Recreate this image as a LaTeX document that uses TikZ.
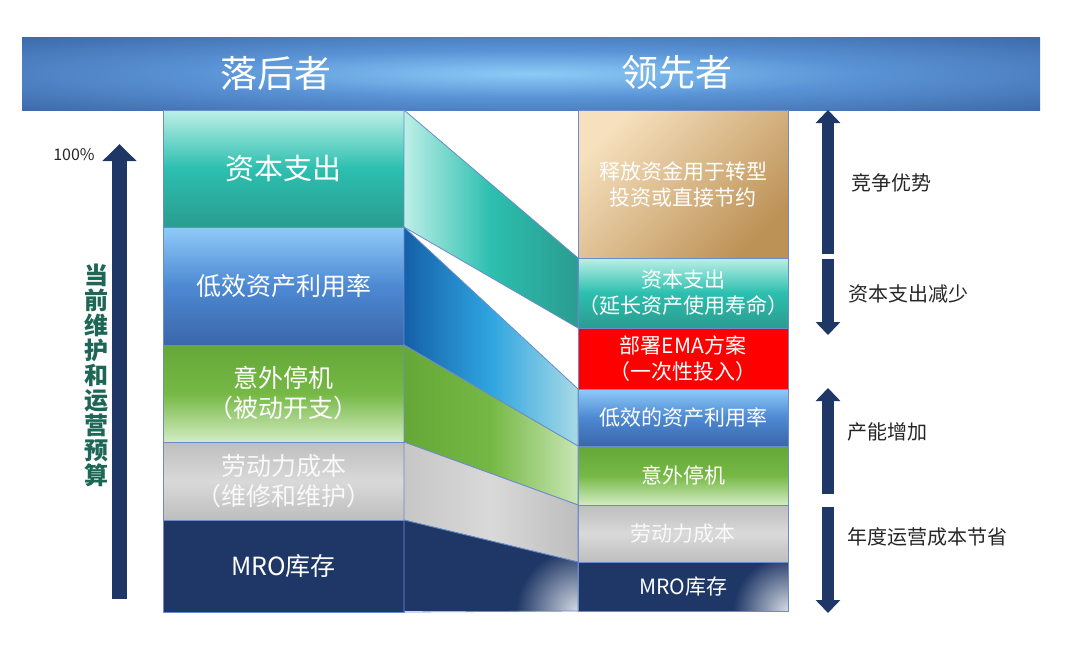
\documentclass[tikz,border=0pt]{standalone}
\usepackage{fontspec}
\setmainfont{Noto Sans CJK SC}
\usetikzlibrary{arrows.meta}
\definecolor{hdark}{HTML}{3A64A6}
\definecolor{hmid}{HTML}{5A94D6}
\definecolor{hlight}{HTML}{8CCBF7}
\definecolor{edge}{HTML}{6A8CCB}
\definecolor{navy}{HTML}{1F3766}
\definecolor{tealL}{HTML}{BDEFE7}
\definecolor{tealM}{HTML}{2CBFAF}
\definecolor{tealD}{HTML}{2A9C8F}
\definecolor{blueL}{HTML}{8FCBF9}
\definecolor{blueM}{HTML}{4D89D2}
\definecolor{blueD}{HTML}{3B66AA}
\definecolor{bbandL}{HTML}{1560A8}
\definecolor{bbandM}{HTML}{2FA5E0}
\definecolor{bbandR}{HTML}{A8DAE6}
\definecolor{greenD}{HTML}{66A838}
\definecolor{greenM}{HTML}{76B845}
\definecolor{greenL}{HTML}{D3ECC3}
\definecolor{gbandR}{HTML}{C8E6B4}
\definecolor{grayD}{HTML}{BEBEBE}
\definecolor{grayM}{HTML}{D9D9D9}
\definecolor{graybL}{HTML}{C6C6C6}
\definecolor{tanL}{HTML}{F6E0BD}
\definecolor{tanD}{HTML}{BD9257}
\definecolor{vgreen}{HTML}{1E6655}
\definecolor{lbl}{HTML}{262626}
\definecolor{glow}{HTML}{D5DBE4}
\pgfdeclareradialshading{hdr}{\pgfpoint{0bp}{0bp}}{color(0bp)=(hlight); color(16bp)=(hmid); color(38bp)=(hdark); color(50bp)=(hdark)}
\begin{document}
\begin{tikzpicture}[x=1pt,y=-1pt,
  box/.style={draw=edge, line width=0.8pt, inner sep=0pt, outer sep=0pt, anchor=north west, text=white, align=center},
  lbox/.style={box, minimum width=241pt, font=\fontsize{25}{30}\selectfont},
  rbox/.style={box, minimum width=210pt, font=\fontsize{21}{26}\selectfont},
  band/.style={draw=edge, line width=0.8pt},
  bigarrow/.style={draw=navy, line width=15pt, -{Triangle[width=33pt,length=17pt]}},
  sarrow/.style={draw=navy, line width=12pt, -{Triangle[width=24pt,length=13pt]}},
  rlabel/.style={anchor=west, text=lbl, font=\fontsize{20}{24}\selectfont, inner sep=0pt}
]
\useasboundingbox (0,0) rectangle (1080,656);

% header
\node[anchor=north west, minimum width=1018pt, minimum height=73pt, inner sep=0pt, shading=hdr] (H) at (22,37) {};
\node[text=white, font=\fontsize{37}{40}\selectfont] (HL) at (276,73) {落后者};
\node[text=white, font=\fontsize{37}{40}\selectfont] (HR) at (677,73) {领先者};

% left column
\node[lbox, minimum height=117pt, top color=tealL, bottom color=tealD, middle color=tealM, font=\fontsize{29}{34}\selectfont] (L1) at (163,110) {资本支出};
\node[lbox, minimum height=118pt, top color=blueL, bottom color=blueD, middle color=blueM] (L2) at (163,227) {低效资产利用率};
\node[lbox, minimum height=97pt, top color=greenD, bottom color=greenL, middle color=greenM] (L3) at (163,345) {意外停机\\（被动开支）};
\node[lbox, minimum height=78pt, top color=grayD, bottom color=grayD, middle color=grayM, text=white!95!gray] (L4) at (163,442) {劳动力成本\\（维修和维护）};
\node[lbox, minimum height=92pt, fill=navy] (L5) at (163,520) {MRO库存};

% right column
\node[rbox, minimum height=148pt, left color=tanL, right color=tanD, shading angle=45] (R1) at (578,110) {释放资金用于转型\\投资或直接节约};
\node[rbox, minimum height=70pt, top color=tealL, bottom color=tealD, middle color=tealM] (R2) at (578,258) {资本支出\\（延长资产使用寿命）};
\node[rbox, minimum height=61pt, fill=red] (R3) at (578,328) {部署EMA方案\\（一次性投入）};
\node[rbox, minimum height=57pt, top color=blueL, bottom color=blueD, middle color=blueM] (R4) at (578,389) {低效的资产利用率};
\node[rbox, minimum height=59pt, top color=greenD, bottom color=greenL, middle color=greenM] (R5) at (578,446) {意外停机};
\node[rbox, minimum height=57pt, top color=grayD, bottom color=grayD, middle color=grayM, text=white!95!gray] (R6) at (578,505) {劳动力成本};
\node[rbox, minimum height=49pt, fill=navy] (R7) at (578,562) {};
\begin{scope}
  \clip (R7.north west) rectangle (R7.south east);
  \shade[inner color=glow, outer color=navy] (R7.south east) circle (55);
\end{scope}
\node[draw=edge, line width=0.8pt, minimum width=210pt, minimum height=49pt, inner sep=0pt, anchor=north west, text=white, font=\fontsize{21}{26}\selectfont] (R7t) at (578,562) {MRO库存};

% bands
\path[band, left color=tealL, right color=tealD, middle color=tealM] (L1.north east) -- (R2.north west) -- (R2.south west) -- (L1.south east) -- cycle;
\path[band, left color=bbandL, right color=bbandR, middle color=bbandM] (L2.north east) -- (R4.north west) -- (R4.south west) -- (L2.south east) -- cycle;
\path[band, left color=greenD, right color=gbandR, middle color=greenM] (L3.north east) -- (R5.north west) -- (R5.south west) -- (L3.south east) -- cycle;
\path[band, left color=graybL, right color=grayD, middle color=grayM] (L4.north east) -- (R6.north west) -- (R6.south west) -- (L4.south east) -- cycle;
\begin{scope}
  \clip (L5.north east) -- (R7.north west) -- (R7.south west) -- (L5.south east) -- cycle;
  \fill[navy] (L5.north east) rectangle (R7.south west);
  \shade[inner color=glow, outer color=navy] (R7.south west) circle (62);
\end{scope}
\path[band] (L5.north east) -- (R7.north west) -- (R7.south west) -- (L5.south east) -- cycle;

% left axis
\coordinate (la0) at (119.5,599);
\coordinate (la1) at (119.5,144);
\draw[bigarrow] (la0) -- (la1);
\node[text=black!85, font=\fontsize{16}{18}\selectfont, inner sep=0pt] (P100) at (74,155) {100\%};
\node[text=vgreen, font=\bfseries\fontsize{24}{25}\selectfont, align=center, inner sep=0pt] (VT) at (96,375) {当\\前\\维\\护\\和\\运\\营\\预\\算};

% right arrows
\coordinate (a1s) at (828,254); \coordinate (a1e) at (828,110);
\coordinate (a2s) at (828,259); \coordinate (a2e) at (828,335);
\coordinate (a3s) at (828,494); \coordinate (a3e) at (828,388);
\coordinate (a4s) at (828,507); \coordinate (a4e) at (828,613);
\draw[sarrow] (a1s) -- (a1e);
\draw[sarrow] (a2s) -- (a2e);
\draw[sarrow] (a3s) -- (a3e);
\draw[sarrow] (a4s) -- (a4e);
\node[rlabel] (T1) at (851,183) {竞争优势};
\node[rlabel] (T2) at (848,294) {资本支出减少};
\node[rlabel] (T3) at (847,432) {产能增加};
\node[rlabel] (T4) at (847,537) {年度运营成本节省};
\end{tikzpicture}
\end{document}
